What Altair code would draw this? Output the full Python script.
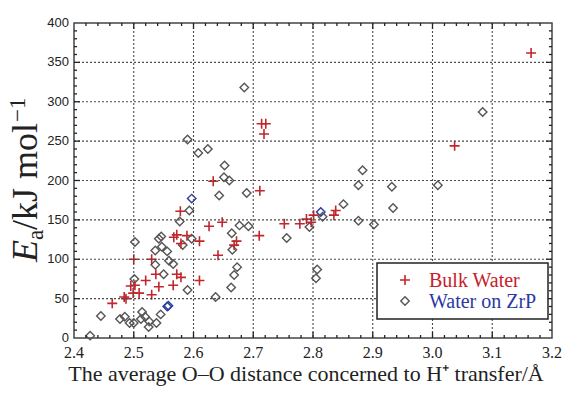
import altair as alt
import pandas as pd
import numpy as np

# ---- data ----
bulk_x = [3.165, 3.037, 2.714, 2.721, 2.718, 2.633, 2.711, 2.838, 2.835, 2.801,
          2.797, 2.789, 2.778, 2.752, 2.626, 2.648, 2.578, 2.567, 2.572, 2.589,
          2.579, 2.610, 2.672, 2.668, 2.641, 2.710, 2.500, 2.530, 2.537, 2.520,
          2.542, 2.572, 2.579, 2.566, 2.610, 2.495, 2.502, 2.499, 2.509, 2.530,
          2.484, 2.487, 2.464]
bulk_y = [362, 244, 272, 272, 259, 199, 187, 162, 156, 156,
          147, 151, 145, 145, 142, 147, 161, 128, 131, 130,
          120, 123, 123, 118, 105, 130, 100, 100, 81, 73,
          65, 81, 77, 67, 73, 66, 67, 57, 57, 55,
          52, 50, 44]

zrp_x = [2.685, 2.590, 2.608, 2.624, 2.652, 2.651, 2.660, 3.084, 2.883, 2.876,
         2.932, 3.009, 2.934, 2.851, 2.876, 2.902, 2.794, 2.813, 2.816, 2.807,
         2.805, 2.689, 2.643, 2.597, 2.593, 2.577, 2.597, 2.582, 2.502, 2.542,
         2.546, 2.547, 2.536, 2.556, 2.559, 2.566, 2.536, 2.550, 2.501, 2.590,
         2.677, 2.692, 2.664, 2.665, 2.673, 2.668, 2.663, 2.637, 2.756, 2.556,
         2.558, 2.445, 2.477, 2.485, 2.493, 2.500, 2.514, 2.512, 2.519, 2.526,
         2.525, 2.538, 2.545, 2.427]
zrp_y = [318, 252, 235, 240, 219, 204, 200, 287, 213, 194,
         192, 194, 165, 170, 149, 144, 141, 160, 154, 87,
         76, 184, 181, 177, 162, 148, 126, 118, 122, 126,
         129, 116, 111, 110, 98, 94, 93, 81, 75, 61,
         143, 142, 133, 112, 90, 80, 64, 52, 127, 40,
         41, 28, 24, 27, 19, 19, 33, 24, 27, 21,
         14, 19, 30, 3]
zrp_blue_idx = [17, 23, 49, 50]

x_major = [2.4, 2.5, 2.6, 2.7, 2.8, 2.9, 3.0, 3.1, 3.2]
y_major = [0, 50, 100, 150, 200, 250, 300, 350, 400]
x_minor = [2.42, 2.44, 2.46, 2.48, 2.52, 2.54, 2.56, 2.58, 2.62, 2.64, 2.66, 2.68,
           2.72, 2.74, 2.76, 2.78, 2.82, 2.84, 2.86, 2.88, 2.92, 2.94, 2.96, 2.98,
           3.02, 3.04, 3.06, 3.08, 3.12, 3.14, 3.16, 3.18]
y_minor = [v for v in range(10, 400, 10) if v % 50 != 0]

series_names = ["Bulk Water", "Water on ZrP"]
x_title = "The average O\u2013O distance concerned to H\u207a transfer/\u00c5"

W, H = 478, 315
RED = "#c0272d"
GRAY = "#555555"
BLUE = "#2b3aa0"
PLUS = "M-1,0H1M0,-1V1"
SERIF = "Liberation Serif"

bulk = pd.DataFrame({"d": bulk_x, "E": bulk_y})
zrp = pd.DataFrame({"d": zrp_x, "E": zrp_y})
zrp["tone"] = ["blue" if i in zrp_blue_idx else "gray" for i in range(len(zrp))]

xs = alt.Scale(domain=[2.4, 3.2], nice=False, zero=False)
ys = alt.Scale(domain=[0, 400], nice=False, zero=False)

GC = "#4a4a4a"
grid_x = alt.Chart(pd.DataFrame({"gx": x_major[1:-1]})).mark_rule(
    color=GC, strokeWidth=1.1, strokeDash=[2, 2], opacity=1).encode(
    x=alt.X("gx:Q", scale=xs, axis=None))
grid_y = alt.Chart(pd.DataFrame({"gy": y_major[1:-1]})).mark_rule(
    color=GC, strokeWidth=1.1, strokeDash=[2, 2], opacity=1).encode(
    y=alt.Y("gy:Q", scale=ys, axis=None))

# tick labels and x title as text
ylab = alt.Chart(pd.DataFrame({"E": y_major})).mark_text(
    align="right", baseline="middle", font="Liberation Sans", fontSize=13, color="#222").encode(
    y=alt.Y("E:Q", scale=ys, axis=None), x=alt.value(-5), text=alt.Text("E:Q", format="d"))
xlab = alt.Chart(pd.DataFrame({"lx": x_major})).mark_text(
    align="center", baseline="middle", font=SERIF, fontSize=16, color="#222").encode(
    x=alt.X("lx:Q", scale=xs, axis=None), y=alt.value(H + 15), text=alt.Text("lx:Q", format=".1f"))

one = pd.DataFrame({"k": [0]})
xtitle = alt.Chart(one).mark_text(text=x_title, align="center", baseline="alphabetic",
                                  font=SERIF, fontSize=22, color="#222").encode(
    x=alt.value(232), y=alt.value(H + 43))

bulk_layer = alt.Chart(bulk).mark_point(shape=PLUS, filled=False, size=100,
                                        strokeWidth=1.6, color=RED, opacity=1).encode(
    x=alt.X("d:Q", scale=xs, axis=None),
    y=alt.Y("E:Q", scale=ys, axis=None),
)

zrp_layer = alt.Chart(zrp).mark_point(shape="diamond", filled=False, size=72,
                                      strokeWidth=1.4, opacity=1).encode(
    x=alt.X("d:Q", scale=xs, axis=None),
    y=alt.Y("E:Q", scale=ys, axis=None),
    color=alt.Color("tone:N", scale=alt.Scale(domain=["gray", "blue"], range=[GRAY, BLUE]),
                    legend=None),
)

# inward ticks on all four sides
TC = "#222222"
def xticks(vals, length):
    df = pd.DataFrame({"tx": vals})
    bottom = alt.Chart(df).mark_rule(color=TC, strokeWidth=1.3, opacity=1).encode(
        x=alt.X("tx:Q", scale=xs, axis=None), y=alt.value(H), y2=alt.value(H - length))
    top = alt.Chart(df).mark_rule(color=TC, strokeWidth=1.3, opacity=1).encode(
        x=alt.X("tx:Q", scale=xs, axis=None), y=alt.value(0), y2=alt.value(length))
    return [bottom, top]

def yticks(vals, length):
    df = pd.DataFrame({"ty": vals})
    left = alt.Chart(df).mark_rule(color=TC, strokeWidth=1.3, opacity=1).encode(
        y=alt.Y("ty:Q", scale=ys, axis=None), x=alt.value(0), x2=alt.value(length))
    right = alt.Chart(df).mark_rule(color=TC, strokeWidth=1.3, opacity=1).encode(
        y=alt.Y("ty:Q", scale=ys, axis=None), x=alt.value(W), x2=alt.value(W - length))
    return [left, right]

ticks = xticks(x_major[1:-1], 6) + xticks(x_minor, 3) + yticks(y_major[1:-1], 6) + yticks(y_minor, 3)

# legend box
LX = W - 175
leg_box = alt.Chart(one).mark_rect(fill="white", stroke="#222", strokeWidth=1.5).encode(
    x=alt.value(LX), x2=alt.value(W - 4), y=alt.value(240), y2=alt.value(296))
leg_plus = alt.Chart(one).mark_point(shape=PLUS, filled=False, size=100, strokeWidth=1.6,
                                     color=RED, opacity=1).encode(x=alt.value(LX + 28), y=alt.value(257))
leg_dia = alt.Chart(one).mark_point(shape="diamond", filled=False, size=72, strokeWidth=1.4,
                                    color=GRAY, opacity=1).encode(x=alt.value(LX + 28), y=alt.value(278))
leg_t1 = alt.Chart(one).mark_text(text=series_names[0], align="left", baseline="middle",
                                  font=SERIF, fontSize=20, color="#c8202a").encode(
    x=alt.value(LX + 52), y=alt.value(258))
leg_t2 = alt.Chart(one).mark_text(text=series_names[1], align="left", baseline="middle",
                                  font=SERIF, fontSize=20, color=BLUE).encode(
    x=alt.value(LX + 52), y=alt.value(279))

# y-axis title  E_a/kJ mol^-1  (rotated pieces)
yt_E = alt.Chart(one).mark_text(text="E", angle=270, align="left", baseline="alphabetic",
                                font=SERIF, fontSize=36, fontStyle="italic", color="#222").encode(
    x=alt.value(-37), y=alt.value(239))
yt_a = alt.Chart(one).mark_text(text="a", angle=270, align="left", baseline="alphabetic",
                                font=SERIF, fontSize=23, color="#222").encode(
    x=alt.value(-31), y=alt.value(217))
yt_main = alt.Chart(one).mark_text(text="/kJ mol", angle=270, align="left", baseline="alphabetic",
                                   font=SERIF, fontSize=36, color="#222").encode(
    x=alt.value(-37), y=alt.value(207))
yt_sup = alt.Chart(one).mark_text(text="\u22121", angle=270, align="left", baseline="alphabetic",
                                  font=SERIF, fontSize=23, color="#222").encode(
    x=alt.value(-49), y=alt.value(99))

chart = alt.layer(
    zrp_layer, bulk_layer, grid_x, grid_y, *ticks, ylab, xlab, xtitle,
    leg_box, leg_plus, leg_dia, leg_t1, leg_t2,
    yt_E, yt_a, yt_main, yt_sup
).properties(
    width=W, height=H,
    autosize=alt.AutoSizeParams(type="none"),
    padding={"left": 66, "top": 15, "right": 12, "bottom": 48},
    background="white",
).configure_view(stroke="#444", strokeWidth=1.5)

chart.save("out.html", embed_options={"renderer": "svg", "actions": False})
